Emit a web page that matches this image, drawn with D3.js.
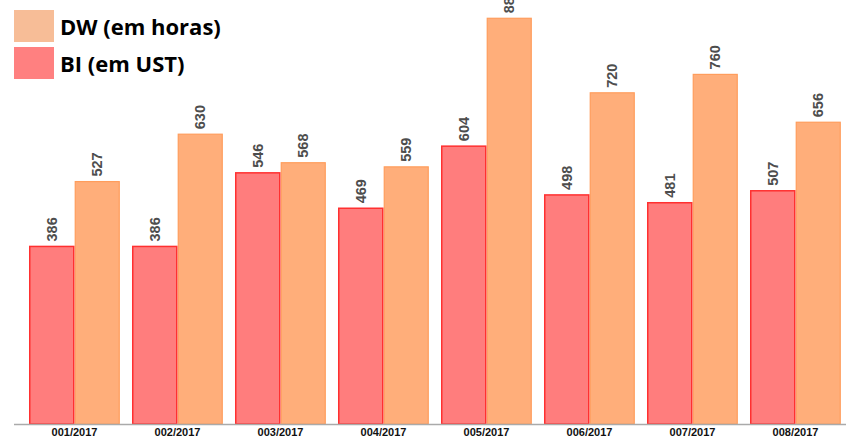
<!DOCTYPE html>
<html>
<head>
<meta charset="utf-8">
<script src="https://cdn.jsdelivr.net/npm/d3@7"></script>
<style>
  body { margin: 0; background: #fff; }
  svg { display: block; }
</style>
</head>
<body>
<svg id="chart"></svg>
<script>
// dados
const months = ['001/2017', '002/2017', '003/2017', '004/2017', '005/2017', '006/2017', '007/2017', '008/2017'];
const biValues = [386, 386, 546, 469, 604, 498, 481, 507];
const dwValues = [527, 630, 568, 559, 882, 720, 760, 656];
const seriesNames = ['BI (em UST)', 'DW (em horas)'];
const legendItems = ['DW (em horas)', 'BI (em UST)'];

const width = 846, height = 437;
const baseY = 424;

const svg = d3.select('#chart')
  .attr('width', width)
  .attr('height', height);

const x0 = d3.scaleBand()
  .domain(months)
  .range([29, 841])
  .paddingInner(0.1165)
  .paddingOuter(0);

const x1 = d3.scaleBand()
  .domain(seriesNames)
  .range([0, x0.bandwidth()]);

const y = d3.scaleLinear()
  .domain([0, 900])
  .range([baseY, 10]);

const fills = { 'BI (em UST)': '#ff7d7d', 'DW (em horas)': '#ffae7a' };
const strokes = { 'BI (em UST)': '#ff3030', 'DW (em horas)': '#ff9d5c' };
const legendFills = { 'DW (em horas)': '#f7bd97', 'BI (em UST)': '#ff8080' };

const rows = months.map((m, i) => ({
  month: m,
  values: [
    { key: 'BI (em UST)', value: biValues[i] },
    { key: 'DW (em horas)', value: dwValues[i] }
  ]
}));

const groups = svg.append('g')
  .selectAll('g')
  .data(rows)
  .join('g')
  .attr('transform', d => `translate(${x0(d.month)},0)`);

// DW primeiro, BI por cima (borda vermelha visível)
groups.selectAll('rect')
  .data(d => d.values.slice().reverse())
  .join('rect')
  .attr('x', d => x1(d.key) + 0.75)
  .attr('y', d => y(d.value))
  .attr('width', d => x1.bandwidth() - 1.5)
  .attr('height', d => baseY - y(d.value))
  .attr('fill', d => fills[d.key])
  .attr('stroke', d => strokes[d.key])
  .attr('stroke-width', d => d.key === 'BI (em UST)' ? 1.5 : 1.2);

// rótulos de valores
groups.selectAll('text.val')
  .data(d => d.values)
  .join('text')
  .attr('class', 'val')
  .attr('transform', d => `translate(${x1(d.key) + x1.bandwidth() / 2 + 5},${y(d.value) - 5}) rotate(-90)`)
  .attr('font-family', 'Liberation Sans, Arial, sans-serif')
  .attr('font-size', 14.5)
  .attr('font-weight', 'bold')
  .attr('fill', '#4d4d4d')
  .text(d => d.value);

// eixo X
const xAxis = svg.append('g')
  .attr('transform', `translate(0,${baseY})`)
  .call(d3.axisBottom(x0).tickSize(0).tickPadding(4));
xAxis.select('.domain').remove();
xAxis.selectAll('text')
  .attr('font-family', 'Liberation Sans, Arial, sans-serif')
  .attr('font-size', 11)
  .attr('font-weight', 'bold')
  .attr('fill', '#111');

svg.append('line')
  .attr('x1', 14).attr('x2', width)
  .attr('y1', baseY + 0.5).attr('y2', baseY + 0.5)
  .attr('stroke', '#aaa')
  .attr('stroke-width', 1.5);

// legenda
const legend = svg.append('g')
  .selectAll('g')
  .data(legendItems)
  .join('g')
  .attr('transform', (d, i) => `translate(14,${10 + i * 37})`);

legend.append('rect')
  .attr('width', 40)
  .attr('height', 32)
  .attr('fill', d => legendFills[d]);

legend.append('text')
  .attr('x', 46)
  .attr('y', 24.5)
  .attr('font-family', 'Open Sans, sans-serif')
  .attr('font-size', 22)
  .attr('font-weight', 'bold')
  .attr('fill', '#000')
  .text(d => d);
</script>
</body>
</html>
